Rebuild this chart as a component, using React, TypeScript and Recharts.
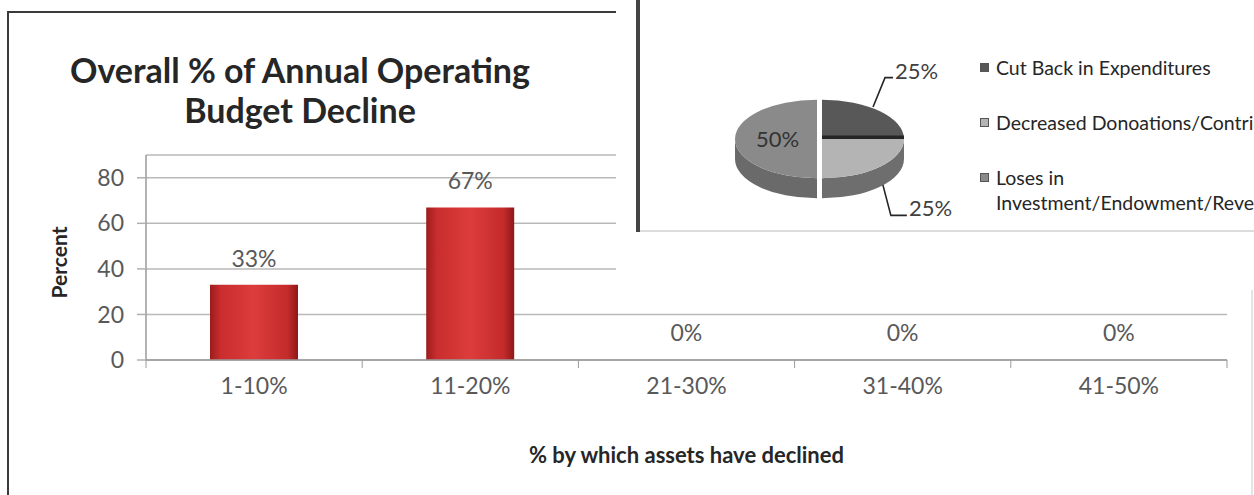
import React from "react";
import {
  BarChart,
  Bar,
  Cell,
  XAxis,
  YAxis,
  CartesianGrid,
  LabelList,
  Label,
  PieChart,
  Pie,
  Legend,
} from "recharts";

// bar chart values
const categories = ["1-10%", "11-20%", "21-30%", "31-40%", "41-50%"];
const percentValues = [33, 67, 0, 0, 0];
const percentTicks = [0, 20, 40, 60, 80];

// pie chart values (overlapping window)
const reasons = [
  "Cut Back in Expenditures",
  "Decreased Donoations/Contributions",
  "Loses in Investment/Endowment/Revenue",
];
const reasonShares = [25, 25, 50];

const barData = categories.map((c, i) => ({ range: c, value: percentValues[i] }));
const pieData = reasons.map((r, i) => ({ name: r, value: reasonShares[i] }));

const FONT = "Lato, 'Open Sans', sans-serif";
const TOP_FILL = ["#585858", "#b4b4b4", "#8a8a8a"];
const SIDE_FILL = ["#3a3a3a", "#6e6e6e", "#6a6a6a"];
const EXPLODE = [0, 0, 5];
const TILT = 0.48;
const DEPTH = 20;
const TICK_SIZE = 8;
const TICK_MARGIN = 10;

function ellipsePoint(cx: number, cy: number, rx: number, ry: number, deg: number) {
  const r = (deg * Math.PI) / 180;
  return [cx + rx * Math.cos(r), cy - ry * Math.sin(r)];
}

// draws a tilted 3d slice plus its percent label, using the angles recharts computed
function renderSlice(props: any) {
  const { cx, cy, outerRadius, startAngle, endAngle, midAngle, index, percent } = props;
  const rx = outerRadius;
  const ry = outerRadius * TILT;
  const m = (midAngle * Math.PI) / 180;
  const ex = EXPLODE[index] ?? 0;
  const ox = cx + ex * Math.cos(m);
  const oy = cy - ex * TILT * Math.sin(m);
  const a0 = Math.max(startAngle, endAngle);
  const a1 = Math.min(startAngle, endAngle);
  const [sx, sy] = ellipsePoint(ox, oy, rx, ry, a0);
  const [tx, ty] = ellipsePoint(ox, oy, rx, ry, a1);
  const large = a0 - a1 > 180 ? 1 : 0;
  const top = `M${ox},${oy} L${sx},${sy} A${rx},${ry} 0 ${large} 1 ${tx},${ty} Z`;

  const walls: string[] = [];
  for (let k = -2; k <= 1; k++) {
    const lo = Math.max(a1, -180 + 360 * k);
    const hi = Math.min(a0, 360 * k);
    if (hi - lo > 0.01) {
      const [hx, hy] = ellipsePoint(ox, oy, rx, ry, hi);
      const [lx, ly] = ellipsePoint(ox, oy, rx, ry, lo);
      walls.push(
        `M${hx},${hy} A${rx},${ry} 0 0 1 ${lx},${ly} L${lx},${ly + DEPTH} A${rx},${ry} 0 0 0 ${hx},${hy + DEPTH} Z`
      );
    }
  }

  const pct = `${Math.round(percent * 100)}%`;
  let text;
  if (percent >= 0.4) {
    const [lx, ly] = ellipsePoint(ox, oy, rx * 0.48, ry * 0.48, midAngle);
    text = (
      <text x={lx} y={ly} dy="0.35em" textAnchor="middle" fill="#333" fontSize={22} fontFamily={FONT}>
        {pct}
      </text>
    );
  } else {
    const up = Math.sin(m) > 0;
    const bx = cx + rx * Math.cos(m) * (up ? 0.88 : 1.05);
    const by = up ? cy - ry * Math.sin(m) * 1.15 : cy - ry * Math.sin(m) + DEPTH * 0.9;
    const ky = up ? cy - ry - 22 : cy + ry + DEPTH + 17;
    const kx = bx + (up ? 12 : 8);
    const endX = bx + (up ? 20 : 24);
    text = (
      <g>
        <polyline
          points={`${bx},${by} ${kx},${ky} ${endX},${ky}`}
          fill="none"
          stroke="#262626"
          strokeWidth={1.6}
        />
        <text x={endX + 2} y={ky + 1} fill="#404040" fontSize={22} fontFamily={FONT}>
          {pct}
        </text>
      </g>
    );
  }

  return (
    <g key={`slice-${index}`}>
      {walls.map((d, i) => (
        <path key={i} d={d} fill={SIDE_FILL[index]} />
      ))}
      <path d={top} fill={TOP_FILL[index]} />
      {index === 0 && (
        <line x1={ox} y1={oy - 1.5} x2={tx} y2={ty - 1.5} stroke="#262626" strokeWidth={4} />
      )}
      {text}
    </g>
  );
}

// excel-like legend wrap: greedy on spaces with a character budget
function wrapWords(s: string, budget: number) {
  const lines: string[] = [];
  let cur = "";
  s.split(" ").forEach((w) => {
    const next = cur ? `${cur} ${w}` : w;
    if (next.length > budget && cur) {
      lines.push(cur);
      cur = w;
    } else cur = next;
  });
  if (cur) lines.push(cur);
  return lines;
}

function renderPieLegend(props: any) {
  const payload = props.payload || [];
  return (
    <div style={{ fontFamily: FONT, fontSize: 19.5, color: "#262626" }}>
      {payload.map((entry: any, i: number) => (
        <div key={i} style={{ display: "flex", alignItems: "flex-start", marginBottom: 30, lineHeight: "25px" }}>
          <span
            style={{
              width: 9,
              height: 9,
              marginTop: 8,
              marginRight: 7,
              flex: "none",
              background: TOP_FILL[i],
              border: "1px solid #555",
              boxSizing: "border-box",
            }}
          />
          <span>
            {wrapWords(String(entry.value), 34).map((ln, j) => (
              <div key={j} style={{ whiteSpace: "nowrap" }}>
                {ln}
              </div>
            ))}
          </span>
        </div>
      ))}
    </div>
  );
}

function CategoryTick(props: any) {
  const { x, y, payload, index } = props;
  const half = payload && typeof payload.offset === "number" && payload.offset > 0 ? payload.offset : 108;
  const axisY = y - TICK_SIZE - TICK_MARGIN;
  const last = index === categories.length - 1;
  return (
    <g>
      <line x1={x - half} x2={x - half} y1={axisY} y2={axisY + TICK_SIZE} stroke="#9a9a9a" />
      {last && <line x1={x + half} x2={x + half} y1={axisY} y2={axisY + TICK_SIZE} stroke="#9a9a9a" />}
      <text x={x} y={y} dy="0.71em" textAnchor="middle" fill="#595959" fontSize={23} fontFamily={FONT}>
        {payload.value}
      </text>
    </g>
  );
}

export default function App() {
  return (
    <div
      style={{
        position: "fixed",
        left: 0,
        top: 0,
        width: 1254,
        height: 495,
        background: "#fff",
        overflow: "hidden",
        fontFamily: FONT,
      }}
    >
      {/* bar chart window */}
      <div style={{ position: "absolute", left: 0, top: 0 }}>
        <BarChart
          width={1254}
          height={495}
          data={barData}
          margin={{ top: 155, right: 27, bottom: 29, left: 0 }}
          barSize={88}
        >
          <defs>
            <linearGradient id="barRed" x1="0" y1="0" x2="1" y2="0">
              <stop offset="0%" stopColor="#9c1c1c" />
              <stop offset="12%" stopColor="#c92d2d" />
              <stop offset="50%" stopColor="#dc3c3c" />
              <stop offset="88%" stopColor="#c42b2b" />
              <stop offset="100%" stopColor="#8e1818" />
            </linearGradient>
          </defs>
          <CartesianGrid vertical={false} stroke="#b9b9b9" strokeWidth={1.5} />
          <XAxis
            dataKey="range"
            height={106}
            tickLine={false}
            tickSize={TICK_SIZE}
            tickMargin={TICK_MARGIN}
            axisLine={{ stroke: "#9a9a9a", strokeWidth: 1.5 }}
            tick={<CategoryTick />}
            interval={0}
          >
            <Label
              content={(p: any) => {
                const vb = p.viewBox;
                return (
                  <text
                    x={vb.x + vb.width / 2}
                    y={vb.y + 103}
                    textAnchor="middle"
                    fill="#262626"
                    fontSize={22}
                    fontWeight={700}
                    fontFamily={FONT}
                  >
                    % by which assets have declined
                  </text>
                );
              }}
            />
          </XAxis>
          <YAxis
            domain={[0, 90]}
            ticks={percentTicks}
            width={146}
            tickSize={9}
            tickMargin={13}
            axisLine={{ stroke: "#9a9a9a", strokeWidth: 1.5 }}
            tickLine={{ stroke: "#b0b0b0", strokeWidth: 1.5 }}
            tick={{ fill: "#595959", fontSize: 23, fontFamily: FONT }}
          >
            <Label
              content={(p: any) => {
                const vb = p.viewBox;
                const lx = vb.x + 58;
                const ly = vb.y + vb.height / 2 + 5;
                return (
                  <text
                    x={lx}
                    y={ly}
                    transform={`rotate(-90, ${lx}, ${ly})`}
                    textAnchor="middle"
                    dominantBaseline="central"
                    fill="#262626"
                    fontSize={21}
                    fontWeight={700}
                    fontFamily={FONT}
                  >
                    Percent
                  </text>
                );
              }}
            />
          </YAxis>
          <Bar
            dataKey="value"
            fill="url(#barRed)"
            minPointSize={(v: number) => (v === 0 ? 1 : 0)}
            isAnimationActive={false}
          >
            {barData.map((d, i) => (
              <Cell key={i} fill={d.value === 0 ? "transparent" : "url(#barRed)"} />
            ))}
            <LabelList
              dataKey="value"
              position="top"
              offset={18}
              formatter={(v: any) => `${v}%`}
              fill="#595959"
              fontSize={23}
              fontFamily={FONT}
            />
          </Bar>
        </BarChart>
        <div
          style={{
            position: "absolute",
            left: 0,
            top: 50,
            width: 600,
            textAlign: "center",
            fontSize: 34,
            fontWeight: 700,
            lineHeight: "40px",
            color: "#262626",
          }}
        >
          Overall % of Annual Operating
          <br />
          Budget Decline
        </div>
      </div>

      {/* bar chart window frame */}
      <div style={{ position: "absolute", left: 7, top: 11, width: 2, height: 484, background: "#3a3a3a" }} />
      <div style={{ position: "absolute", left: 7, top: 11, width: 620, height: 2, background: "#3a3a3a" }} />
      <div style={{ position: "absolute", left: 1251, top: 285, width: 2, height: 210, background: "#e4e4e4" }} />

      {/* white area of the window on top */}
      <div style={{ position: "absolute", left: 616, top: 0, width: 638, height: 290, background: "#fff" }} />

      {/* pie chart window */}
      <div
        style={{
          position: "absolute",
          left: 636,
          top: 0,
          width: 618,
          height: 232,
          overflow: "hidden",
          background: "#fff",
        }}
      >
        <PieChart width={760} height={232} margin={{ top: 0, right: 0, bottom: 0, left: 0 }}>
          <Pie
            data={pieData}
            dataKey="value"
            nameKey="name"
            cx={186}
            cy={139}
            outerRadius={82}
            startAngle={90}
            endAngle={-270}
            fill="transparent"
            stroke="none"
            label={renderSlice}
            labelLine={false}
            isAnimationActive={false}
          />
          <Legend
            layout="vertical"
            align="right"
            verticalAlign="top"
            content={renderPieLegend}
            wrapperStyle={{ left: 344, top: 55, width: 420 }}
          />
        </PieChart>
        <div style={{ position: "absolute", left: 0, top: 0, width: 4, height: 232, background: "#444" }} />
        <div style={{ position: "absolute", left: 4, top: 230, width: 614, height: 2, background: "#dcdcdc" }} />
      </div>
    </div>
  );
}
